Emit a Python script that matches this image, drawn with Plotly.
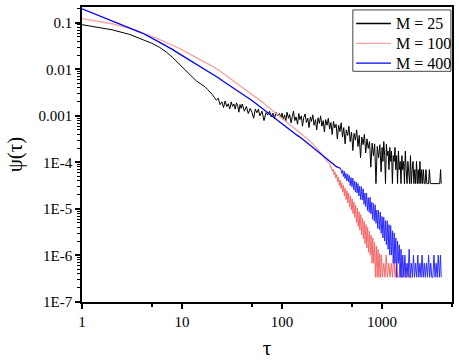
import plotly.graph_objects as go

# ---------------- data ----------------
series_names = ["M = 25", "M = 100", "M = 400"]
series_colors = ["#000000", "#f3a3a3", "#0000ff"]

m25_tau = [1, 2, 3, 4, 5, 6, 7, 8, 9, 10, 11, 12, 13, 14, 15, 16, 17, 18, 19, 20,
           21, 22, 23, 24, 25, 26, 27, 28, 29, 30,
           31, 32, 33, 34, 35, 36, 37, 38, 39, 40, 42, 44, 46, 48, 50, 52, 54, 56, 58, 60,
           63, 66, 69, 72, 75, 78, 81, 84, 87, 90, 94, 98,
           100, 103, 106, 109, 112, 116, 119, 123, 127, 130, 134, 138, 143, 147, 151, 156,
           160, 165, 170, 175, 181, 186, 192, 197, 203, 209, 216, 222, 229, 236, 243, 250,
           258, 265, 273, 282, 290, 299, 308, 317, 327, 336, 347, 357, 368, 379, 390, 402,
           414, 427, 439, 453, 466, 480, 495, 510, 525, 541, 557, 574, 591, 609, 627, 646,
           666, 686, 706, 727, 749, 772, 795, 819, 843, 869, 895, 922, 950, 978,
           1000, 1020, 1040, 1061, 1082, 1104, 1126, 1149, 1172, 1195, 1219, 1243, 1268,
           1294, 1320, 1346, 1373, 1400, 1428, 1457, 1486, 1516, 1546, 1577, 1609, 1641,
           1674, 1707, 1741, 1776, 1812, 1848, 1885, 1923, 1961, 2000, 2040, 2081, 2123,
           2165, 2209, 2253, 2298, 2344, 2391, 2438, 2487, 2537, 2588, 2640, 2692, 2746,
           2801, 2857, 2914, 2973, 3032, 3093, 3155, 3218, 3282, 3348, 3415, 3483, 3553,
           3624, 3696, 3770, 3845, 3900]
m25_psi = [0.0912, 0.0708, 0.0562, 0.0437, 0.0363, 0.0295, 0.0234, 0.0182, 0.0141, 0.0112,
           0.0091, 0.0074, 0.0065, 0.0056, 0.0051, 0.0046, 0.0042, 0.0037, 0.0033, 0.0029,
           0.00251, 0.00219, 0.0024, 0.00174, 0.0020, 0.00151, 0.00209, 0.00158, 0.00182, 0.00141,
           2.0e-3, 1.6e-3, 1.8e-3, 1.4e-3, 1.9e-3, 1.65e-3, 1.2e-3, 1.75e-3, 1.45e-3, 1.8e-3,
           1.26e-3, 1.6e-3, 1.12e-3, 1.45e-3, 1.2e-3, 8.9e-4, 1.4e-3, 1.17e-3, 1.4e-3, 1.0e-3,
           1.26e-3, 7.9e-4, 1.17e-3, 1.05e-3, 1.26e-3, 9.5e-4, 1.15e-3, 8.7e-4, 1.2e-3, 1.0e-3,
           1.12e-3, 9.1e-4,
           1.15e-3, 8.3e-4, 1.05e-3, 7.6e-4, 1.2e-3, 8.9e-4, 1.07e-3, 7.1e-4, 1.0e-3, 1.26e-3,
           7.9e-4, 9.5e-4, 6.6e-4, 1.12e-3, 8.3e-4, 1.0e-3, 6.0e-4, 9.3e-4, 1.1e-3, 7.2e-4,
           8.9e-4, 5.6e-4, 9.5e-4, 7.6e-4, 1.05e-3, 6.3e-4, 8.3e-4, 5.0e-4, 9.1e-4, 6.9e-4,
           1.0e-3, 6.0e-4, 7.9e-4, 4.5e-4, 8.3e-4, 6.3e-4, 8.9e-4, 5.2e-4, 7.2e-4, 4.0e-4,
           7.6e-4, 5.5e-4, 6.6e-4, 3.2e-4, 6.3e-4, 4.6e-4, 7.1e-4, 3.5e-4, 5.6e-4, 2.5e-4,
           5.0e-4, 3.8e-4, 6.0e-4, 2.8e-4, 4.5e-4, 1.8e-4, 4.2e-4, 3.0e-4, 5.0e-4, 2.2e-4,
           3.8e-4, 1.26e-4, 3.5e-4, 2.4e-4, 4.0e-4, 1.6e-4, 3.2e-4, 2.0e-4, 2.8e-4, 7.9e-5,
           2.6e-4, 1.4e-4, 2.5e-4, 3.5e-5, 2.2e-4, 1.26e-4, 2.4e-4, 6.3e-5,
           2.1e-4, 1.05e-4, 2.8e-4, 1.4e-4, 3.5e-5, 2.45e-4, 1.4e-4, 1.75e-4, 7.0e-5, 2.1e-4,
           1.05e-4, 1.75e-4, 3.5e-5, 1.4e-4, 1.05e-4, 2.1e-4, 7.0e-5, 1.4e-4, 3.5e-5, 1.75e-4,
           7.0e-5, 1.05e-4, 3.5e-5, 1.4e-4, 7.0e-5, 1.05e-4, 3.5e-5, 1.75e-4, 7.0e-5, 3.5e-5,
           1.05e-4, 7.0e-5, 3.5e-5, 1.4e-4, 3.5e-5, 7.0e-5, 1.05e-4, 3.5e-5, 7.0e-5, 3.5e-5,
           1.05e-4, 3.5e-5, 7.0e-5, 3.5e-5, 1.05e-4, 3.5e-5, 7.0e-5, 3.5e-5, 7.0e-5, 3.5e-5,
           3.5e-5, 7.0e-5, 3.5e-5, 3.5e-5, 3.5e-5, 7.0e-5, 3.5e-5, 3.5e-5, 3.5e-5, 3.5e-5,
           3.5e-5, 3.5e-5, 3.5e-5, 3.5e-5, 3.5e-5, 3.5e-5, 3.5e-5, 3.5e-5, 7.0e-5, 3.5e-5]

m100_tau_head = [1, 2, 3, 4, 5, 6, 7, 8, 9, 10, 12, 14, 16, 18, 20, 23, 26, 30, 35, 40, 45,
                 50, 56, 63, 70, 80, 90, 100, 112, 125, 140, 160, 180, 200, 225, 250, 280, 300]
m100_psi_head = [0.123, 0.0955, 0.0759, 0.0617, 0.0513, 0.0437, 0.0380, 0.0331, 0.0295,
                 0.0263, 0.0214, 0.0182, 0.0155, 0.0135, 0.0117, 0.0098, 0.0081, 0.0065,
                 0.0050, 0.0041, 0.0034, 0.0029, 0.0024, 0.0020, 0.00166, 0.00132, 0.00107,
                 8.9e-4, 7.4e-4, 6.2e-4, 5.0e-4, 3.9e-4, 3.2e-4, 2.6e-4, 2.0e-4, 1.5e-4,
                 1.07e-4, 9.3e-5]
m100_tau_tail = [300, 306, 312, 318, 325, 331, 338, 345, 352, 359, 366, 373, 381, 388, 396,
                 404, 412, 420, 429, 437, 446, 455, 464, 473, 483, 492, 502, 512, 523, 533,
                 544, 555, 566, 577, 589, 600, 612, 625, 637, 650, 663, 676, 690, 704, 718,
                 732, 747, 762, 777, 793, 808, 825, 841, 858, 875, 892, 910, 929, 947, 966,
                 985, 1010, 1040, 1070, 1100, 1130, 1165, 1200, 1235, 1270, 1310, 1350, 1390,
                 1430, 1475, 1520, 1565, 1610, 1660, 1710, 1760, 1815, 1870, 1925, 1980]
m100_psi_tail = [9.3e-5, 7.9e-5, 7.9e-5, 6.5e-5, 7.2e-5, 5.4e-5, 6.3e-5, 4.6e-5, 5.5e-5,
                 3.8e-5, 4.8e-5, 3.2e-5, 4.2e-5, 2.75e-5, 3.6e-5, 2.3e-5, 3.2e-5, 1.9e-5,
                 2.8e-5, 1.6e-5, 2.45e-5, 1.35e-5, 2.2e-5, 1.12e-5, 1.9e-5, 9.5e-6, 1.66e-5,
                 7.9e-6, 1.41e-5, 6.5e-6, 1.2e-5, 5.1e-6, 1.05e-5, 4.2e-6, 8.7e-6, 3.5e-6,
                 7.6e-6, 2.75e-6, 6.3e-6, 2.3e-6, 5.5e-6, 1.8e-6, 4.6e-6, 1.45e-6, 4.0e-6,
                 1.17e-6, 3.3e-6, 1.02e-6, 2.75e-6, 6.8e-7, 2.38e-6, 6.8e-7, 1.9e-6, 3.4e-7,
                 1.6e-6, 3.4e-7, 1.36e-6, 3.4e-7, 1.1e-6, 3.4e-7, 1.02e-6, 3.4e-7, 6.8e-7,
                 3.4e-7, 1.02e-6, 3.4e-7, 6.8e-7, 3.4e-7, 6.8e-7, 3.4e-7, 1.02e-6, 3.4e-7,
                 6.8e-7, 3.4e-7, 3.4e-7, 6.8e-7, 3.4e-7, 3.4e-7, 6.8e-7, 3.4e-7, 3.4e-7,
                 6.8e-7, 3.4e-7, 3.4e-7, 3.4e-7]

m400_tau_head = [1, 2, 3, 4, 5, 6, 7, 8, 9, 10, 12, 14, 16, 18, 20, 23, 26, 30, 35, 40, 45,
                 50, 56, 63, 70, 80, 90, 100, 112, 125, 140, 160, 180, 200, 225, 250, 280,
                 315, 350, 386]
m400_psi_head = [0.200, 0.112, 0.0794, 0.0603, 0.0468, 0.0380, 0.0316, 0.0269, 0.0229,
                 0.0200, 0.0158, 0.0129, 0.0107, 0.0091, 0.0079, 0.0066, 0.0055, 0.0045,
                 0.0035, 0.0030, 0.0025, 0.00214, 0.00178, 0.00148, 0.00123, 0.0010,
                 8.1e-4, 6.8e-4, 5.6e-4, 4.7e-4, 3.9e-4, 3.2e-4, 2.6e-4, 2.2e-4, 1.8e-4,
                 1.5e-4, 1.23e-4, 1.0e-4, 8.1e-5, 7.4e-5]
m400_tau_tail = [386, 394, 402, 410, 418, 426, 435, 444, 453, 462, 471, 480, 490, 500, 510,
                 520, 530, 541, 552, 563, 574, 586, 598, 610, 622, 634, 647, 660, 673, 686,
                 700, 714, 728, 743, 758, 773, 788, 804, 820, 836, 853, 870, 887, 905, 923,
                 942, 961, 980, 1000, 1020, 1040, 1061, 1082, 1104, 1126, 1149, 1172, 1195,
                 1219, 1243, 1268, 1294, 1320, 1346, 1373, 1400, 1428, 1457, 1486, 1516,
                 1546, 1577, 1609, 1650, 1690, 1730, 1775, 1820, 1865, 1910, 1960, 2010,
                 2060, 2110, 2165, 2220, 2275, 2330, 2390, 2450, 2510, 2575, 2640, 2705,
                 2775, 2845, 2915, 2990, 3065, 3140, 3220, 3300, 3385, 3470, 3555, 3645,
                 3740, 3835, 3900]
m400_psi_tail = [7.4e-5, 5.8e-5, 6.9e-5, 5.0e-5, 6.5e-5, 4.5e-5, 5.8e-5, 4.0e-5, 5.6e-5,
                 3.8e-5, 5.2e-5, 3.2e-5, 4.7e-5, 3.0e-5, 4.6e-5, 2.6e-5, 4.0e-5, 2.3e-5,
                 3.8e-5, 2.2e-5, 3.5e-5, 1.9e-5, 3.1e-5, 1.6e-5, 3.0e-5, 1.55e-5, 2.7e-5,
                 1.26e-5, 2.2e-5, 1.12e-5, 2.2e-5, 9.3e-6, 1.74e-5, 8.5e-6, 1.78e-5, 7.8e-6,
                 1.41e-5, 6.0e-6, 1.32e-5, 5.5e-6, 1.23e-5, 4.9e-6, 9.5e-6, 3.8e-6, 9.3e-6,
                 3.6e-6, 8.5e-6, 3.0e-6, 6.9e-6, 2.38e-6, 6.6e-6, 2.04e-6, 5.6e-6, 1.7e-6,
                 5.6e-6, 1.36e-6, 4.6e-6, 1.02e-6, 4.4e-6, 1.02e-6, 3.4e-6, 6.8e-7, 3.06e-6,
                 6.8e-7, 2.38e-6, 3.4e-7, 2.04e-6, 6.8e-7, 1.7e-6, 3.4e-7, 1.36e-6, 3.4e-7,
                 1.02e-6, 3.4e-7, 1.02e-6, 3.4e-7, 6.8e-7, 3.4e-7, 1.36e-6, 3.4e-7, 6.8e-7,
                 3.4e-7, 1.02e-6, 3.4e-7, 6.8e-7, 3.4e-7, 1.02e-6, 3.4e-7, 6.8e-7, 3.4e-7,
                 1.02e-6, 3.4e-7, 6.8e-7, 3.4e-7, 6.8e-7, 3.4e-7, 1.02e-6, 3.4e-7, 6.8e-7,
                 3.4e-7, 3.4e-7, 1.02e-6, 3.4e-7, 6.8e-7, 3.4e-7, 1.02e-6, 3.4e-7, 1.02e-6,
                 3.4e-7]

x_tick_vals = [1, 10, 100, 1000]
x_tick_text = ["1", "10", "100", "1000"]
x_minor_vals = [5, 50, 500, 5000]
y_tick_vals = [1e-1, 1e-2, 1e-3, 1e-4, 1e-5, 1e-6, 1e-7]
y_tick_text = ["0.1", "0.01", "0.001", "1E-4", "1E-5", "1E-6", "1E-7"]
y_minor_vals = [k * 10.0 ** e for e in range(-7, 0) for k in range(2, 10)]

# ---------------- figure ----------------
FONT = "Liberation Serif"
fig = go.Figure()
fig.add_trace(go.Scatter(x=m25_tau, y=m25_psi, mode="lines", name=series_names[0],
                         line=dict(color=series_colors[0], width=1)))
fig.add_trace(go.Scatter(x=m100_tau_head, y=m100_psi_head, mode="lines", name=series_names[1],
                         line=dict(color=series_colors[1], width=1.3)))
fig.add_trace(go.Scatter(x=m100_tau_tail, y=m100_psi_tail, mode="lines", name=series_names[1],
                         line=dict(color="#f56a6a", width=1)))
fig.add_trace(go.Scatter(x=m400_tau_head, y=m400_psi_head, mode="lines", name=series_names[2],
                         line=dict(color=series_colors[2], width=1.3)))
fig.add_trace(go.Scatter(x=m400_tau_tail, y=m400_psi_tail, mode="lines", name=series_names[2],
                         line=dict(color="#2a2aff", width=1)))

# legend box drawn in paper coordinates (compact, Origin-style)
legend_shapes = [dict(type="rect", xref="paper", yref="paper", x0=0.732, x1=0.997,
                      y0=0.782, y1=0.990, line=dict(color="#444444", width=1),
                      fillcolor="white", layer="above")]
legend_texts = []
row_y = [0.944, 0.877, 0.810]
for name, color, yy in zip(series_names, series_colors, row_y):
    legend_shapes.append(dict(type="line", xref="paper", yref="paper", x0=0.741, x1=0.835,
                              y0=yy, y1=yy, line=dict(color=color, width=1.3), layer="above"))
    legend_texts.append(dict(xref="paper", yref="paper", x=0.843, y=yy, text=name,
                             showarrow=False, xanchor="left", yanchor="middle",
                             font=dict(family=FONT, size=16, color="black")))

fig.update_layout(
    width=459, height=361,
    margin=dict(l=82, r=7, t=5, b=58),
    paper_bgcolor="white", plot_bgcolor="white",
    font=dict(family=FONT, size=15, color="black"),
    showlegend=False,
    shapes=legend_shapes,
    annotations=legend_texts,
)
fig.update_xaxes(
    type="log", range=[0, 3.699],
    tickmode="array", tickvals=x_tick_vals, ticktext=x_tick_text,
    ticks="outside", ticklen=5, tickwidth=1.5, tickcolor="black",
    showline=True, linecolor="black", linewidth=1.5, mirror=True,
    showgrid=False, zeroline=False,
    minor=dict(tickmode="array", tickvals=x_minor_vals, ticks="outside",
               ticklen=3, tickwidth=1.5, tickcolor="black", showgrid=False),
    tickfont=dict(family=FONT, size=15),
    title=dict(text="τ", font=dict(family=FONT, size=21), standoff=12),
)
fig.update_yaxes(
    type="log", range=[-7, -0.66],
    tickmode="array", tickvals=y_tick_vals, ticktext=y_tick_text,
    ticks="outside", ticklen=5, tickwidth=1.5, tickcolor="black",
    showline=True, linecolor="black", linewidth=1.5, mirror=True,
    showgrid=False, zeroline=False,
    minor=dict(tickmode="array", tickvals=y_minor_vals, ticks="outside",
               ticklen=3, tickwidth=1, tickcolor="black", showgrid=False),
    tickfont=dict(family=FONT, size=15),
    title=dict(text="ψ(τ)", font=dict(family=FONT, size=21), standoff=10),
)

fig.write_html("out.html", config={"displayModeBar": False},
               post_script="document.body.style.margin='0';document.body.style.overflow='hidden';")
